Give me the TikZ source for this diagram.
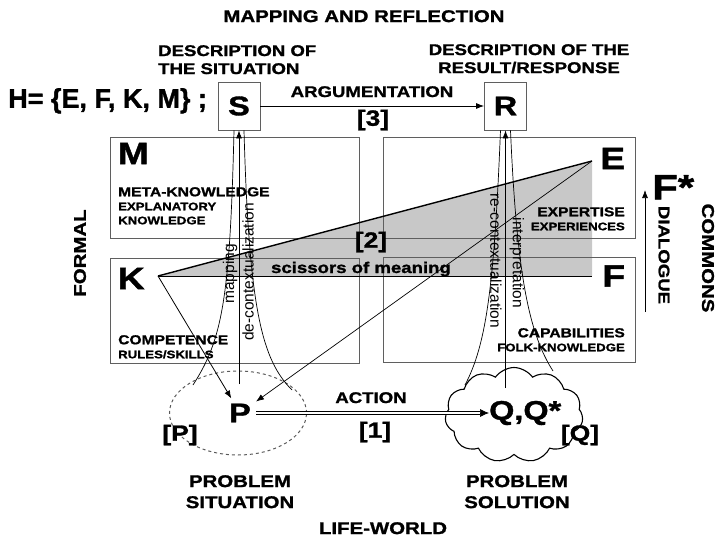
\documentclass[tikz,border=0pt]{standalone}
\usepackage{fontspec}
\setmainfont{Liberation Sans}
\newfontfamily\heavyfont{Liberation Sans}[FakeStretch=1.2,FakeBold=1.3]
\newfontfamily\setfont{Liberation Sans}[FakeBold=1.3]
\usepackage{tikz}
\usetikzlibrary{arrows.meta,calc,positioning,shapes.geometric,shapes.symbols}
\definecolor{rulegrey}{RGB}{95,95,95}
\definecolor{scissorgrey}{RGB}{200,200,200}
\definecolor{dashgrey}{RGB}{90,90,90}
\tikzset{
  region/.style={draw=rulegrey,line width=0.7pt,inner sep=0pt},
  bigletter/.style={font=\heavyfont\bfseries\fontsize{31}{31}\selectfont,inner sep=0pt},
  keyletter/.style={font=\heavyfont\bfseries\fontsize{27}{27}\selectfont},
  statebox/.style={draw=rulegrey,line width=0.8pt,minimum width=42pt,minimum height=48pt,
    inner sep=0pt,font=\heavyfont\bfseries\fontsize{27}{27}\selectfont},
  captiontext/.style={font=\heavyfont\bfseries\fontsize{15.5}{18}\selectfont,align=center,inner sep=0pt},
  bigcaption/.style={font=\heavyfont\bfseries\fontsize{17}{21}\selectfont,align=center,inner sep=0pt},
  bracketlabel/.style={font=\heavyfont\bfseries\fontsize{22}{22}\selectfont,inner sep=0pt},
  boxtext/.style={font=\heavyfont\bfseries\fontsize{11}{14}\selectfont,inner sep=0pt},
  funneltext/.style={font=\fontsize{15.5}{16}\selectfont,inner sep=0pt},
  flow/.style={-{Latex[length=8pt,width=6pt]},line width=0.8pt},
  funnel/.style={line width=0.7pt}
}

\begin{document}
\begin{tikzpicture}[x=1pt,y=-1pt]
  \useasboundingbox (0,0) rectangle (716,538);
  % scissors of meaning
  \coordinate (Kpt) at (158,276);
  \coordinate (Ept) at (592,161);
  \fill[scissorgrey] (Kpt) -- (Ept) -- (Ept |- Kpt) -- cycle;
  % the four knowledge regions
  \node[region,minimum width=249pt,minimum height=101pt] (Mbox) at (234.5,187.5) {};
  \node[region,minimum width=252pt,minimum height=101pt] (Ebox) at (509,187.5) {};
  \node[region,minimum width=249pt,minimum height=105pt] (Kbox) at (234.5,310.5) {};
  \node[region,minimum width=252pt,minimum height=105pt] (Fbox) at (509,310) {};
  \draw[line width=1.4pt] (Kpt) -- (Ept);
  \draw[line width=0.8pt] (Kpt) -- (Ept |- Kpt);
  \node[bigletter,below right=6pt and 8pt of Mbox.north west] (M) {M};
  \node[bigletter,below right=10pt and 8pt of Kbox.north west] (K) {K};
  \node[bigletter,below left=11pt and 10pt of Ebox.north east] (E) {E};
  \node[bigletter,below left=8pt and 10pt of Fbox.north east] (F) {F};
  \node[boxtext,align=left,anchor=north west] (meta) at (118,187)
    {{\fontsize{13}{14}\selectfont META-KNOWLEDGE}\\EXPLANATORY\\KNOWLEDGE};
  \node[boxtext,align=left,anchor=north west] (compet) at (118,335)
    {{\fontsize{13}{14}\selectfont COMPETENCE}\\RULES/SKILLS};
  \node[boxtext,align=right,anchor=north east] (expert) at (625,207)
    {{\fontsize{13}{14}\selectfont EXPERTISE}\\EXPERIENCES};
  \node[boxtext,align=right,anchor=north east] (capab) at (625,328)
    {{\fontsize{13}{14}\selectfont CAPABILITIES}\\FOLK-KNOWLEDGE};
  \node[bracketlabel] (two) at (371,242) {[2]};
  \node[captiontext,anchor=base] (scissors) at (361,273) {scissors of meaning};

  % mapping and reflection
  \node[bigcaption,anchor=north] (title) at (364,10) {MAPPING AND REFLECTION};
  \node[statebox] (S) at (239,106) {S};
  \node[statebox] (R) at (505.5,106) {R};
  \node[captiontext,align=left,anchor=north west] (Sdesc) at (158,45) {DESCRIPTION OF\\THE SITUATION};
  \node[captiontext,anchor=north] (Rdesc) at (529,44) {DESCRIPTION OF THE\\RESULT/RESPONSE};
  \node[font=\setfont\bfseries\fontsize{27}{27}\selectfont,inner sep=0pt,anchor=north west] (Hset)
    at (8,88) {H= \{E, F, K, M\} ;};
  \draw[flow] (S) -- (R);
  \node[captiontext,anchor=north] (argu) at (372,86) {ARGUMENTATION};
  \node[bracketlabel] (three) at (373,120) {[3]};

  % life-world
  \node[ellipse,draw=dashgrey,dashed,line width=1pt,minimum width=137pt,minimum height=84pt,
    inner sep=0pt] (Pset) at (238,413) {};
  \node[keyletter,inner sep=5pt] (P) at (240,413) {P};
  \node[cloud,draw,line width=1.1pt,cloud puffs=11,cloud puff arc=110,aspect=1.45,
    minimum width=138pt,minimum height=95pt,inner sep=0pt] (Qset) at (514,415) {};
  \node[keyletter,inner sep=0pt,anchor=west] (Q) at (489,413) {Q,Q*};
  \coordinate[left=9pt of Q.west] (actTip);
  \draw[double,double distance=2.2pt,line width=0.7pt] (P.east) -- (actTip);
  \draw[-{Latex[length=9pt,width=8pt]},line width=0.7pt] (actTip) -- (Q.west);
  \node[captiontext,anchor=north] (action) at (371,392) {ACTION};
  \node[bracketlabel] (one) at (375,432) {[1]};
  \node[bracketlabel] (Plabel) at (180,435) {[P]};
  \node[bracketlabel] (Qlabel) at (580,435) {[Q]};
  \node[bigcaption,anchor=north] (Psit) at (240,475) {PROBLEM\\SITUATION};
  \node[bigcaption,anchor=north] (Qsol) at (517,475) {PROBLEM\\SOLUTION};
  \node[bigcaption,anchor=north] (life) at (383,522) {LIFE-WORLD};

  % side labels
  \node[bigcaption,rotate=90] (formal) at (80,253) {FORMAL};
  \node[bigcaption,rotate=-90] (commons) at (708,258) {COMMONS};
  \node[captiontext,rotate=-90] (dialogue) at (664,255) {DIALOGUE};
  \node[font=\heavyfont\bfseries\fontsize{35}{35}\selectfont,inner sep=0pt,anchor=north west]
    (Fstar) at (652,175) {F*};
  \coordinate (dlgFoot) at (645,312);
  \coordinate (dlgHead) at (645,190);
  \draw[flow,line width=0.7pt] (dlgFoot) -- (dlgHead);

  % funnels between the life-world and the descriptions
  \coordinate (mapFoot) at (193,385);
  \coordinate (decFoot) at (292,390);
  \coordinate (midFoot) at (239,384);
  \draw[funnel] ([xshift=-5pt]S.south) .. controls (230,300) and (222,340) .. (mapFoot);
  \draw[funnel] ([xshift=5pt]S.south) .. controls (249,310) and (262,360) .. (decFoot);
  \draw[flow,line width=0.7pt] (midFoot) -- (S);
  \coordinate (recFoot) at (465,385);
  \coordinate (intFoot) at (553,371);
  \coordinate (resFoot) at (505.5,388);
  \draw[funnel] ([xshift=-5pt]R.south) .. controls (494,290) and (486,345) .. (recFoot);
  \draw[funnel] ([xshift=5pt]R.south) .. controls (517,280) and (530,335) .. (intFoot);
  \draw[flow,line width=0.7pt] (resFoot) -- (R);
  \node[funneltext,rotate=90] (mapping) at (230,274) {mapping};
  \node[funneltext,rotate=90] (decontext) at (248,272) {de-contextualization};
  \node[funneltext,rotate=-90] (recontext) at (496,261) {re-contextualization};
  \node[funneltext,rotate=-90] (interp) at (517,263) {interpretation};

  % links into the problem situation
  \draw[flow] (Kpt) -- (P);
  \draw[flow,line width=0.7pt] (Ept) -- (P);
\end{tikzpicture}
\end{document}
